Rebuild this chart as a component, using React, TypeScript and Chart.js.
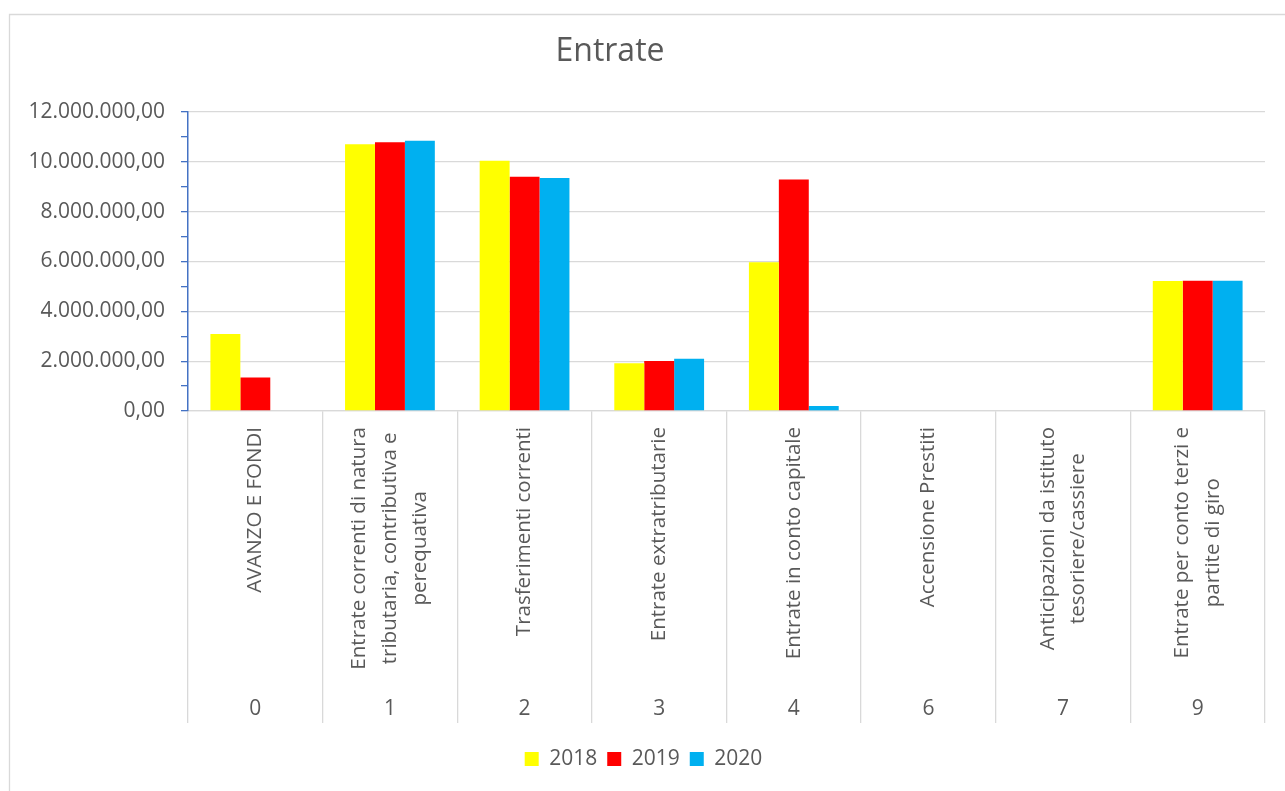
import React, { useEffect, useRef } from 'react';
import { Chart, registerables } from 'chart.js';

Chart.register(...registerables);

const TITLE = 'Entrate';
const CATEGORY_CODES = ['0', '1', '2', '3', '4', '6', '7', '9'];
const CATEGORY_LABELS = [
  ['AVANZO E FONDI'],
  ['Entrate correnti di natura', 'tributaria, contributiva e', 'perequativa'],
  ['Trasferimenti correnti'],
  ['Entrate extratributarie'],
  ['Entrate in conto capitale'],
  ['Accensione Prestiti'],
  ['Anticipazioni da istituto', 'tesoriere/cassiere'],
  ['Entrate per conto terzi e', 'partite di giro'],
];
const SERIES_NAMES = ['2018', '2019', '2020'];
const VALUES_2018 = [3090000, 10710000, 10040000, 1920000, 5970000, 0, 0, 5220000];
const VALUES_2019 = [1340000, 10790000, 9400000, 2010000, 9290000, 0, 0, 5230000];
const VALUES_2020 = [0, 10850000, 9350000, 2100000, 200000, 0, 0, 5230000];
const SERIES_COLORS = ['#ffff00', '#ff0000', '#00b0f0'];
const Y_MIN = 0;
const Y_MAX = 12000000;
const Y_STEP = 1000000;
const Y_LABEL_STEP = 2000000;

const FONT = "'Open Sans', 'DejaVu Sans', sans-serif";
const TEXT_COLOR = '#595959';
const GRID_COLOR = '#d9d9d9';
const AXIS_BLUE = '#4472c4';

function formatIt(v: number): string {
  const n = Math.round(v);
  const s = String(Math.abs(n)).replace(/\B(?=(\d{3})+(?!\d))/g, '.');
  return (n < 0 ? '-' : '') + s + ',00';
}

const decorPlugin = {
  id: 'decor',
  beforeDraw(chart: any) {
    const ctx = chart.ctx;
    ctx.save();
    ctx.strokeStyle = GRID_COLOR;
    ctx.lineWidth = 1.3;
    ctx.beginPath();
    ctx.moveTo(9.5, chart.height);
    ctx.lineTo(9.5, 14.5);
    ctx.lineTo(chart.width, 14.5);
    ctx.stroke();
    ctx.restore();
  },
  afterDraw(chart: any) {
    const ctx = chart.ctx;
    const xs = chart.scales.x;
    ctx.save();
    // title
    ctx.fillStyle = TEXT_COLOR;
    ctx.font = `32px ${FONT}`;
    ctx.textAlign = 'center';
    ctx.textBaseline = 'middle';
    ctx.fillText(TITLE, 610, 52);

    // category labels (rotated) and codes
    ctx.font = `20.5px ${FONT}`;
    const lineGap = 30.5;
    const topY = xs.top + 16;
    CATEGORY_LABELS.forEach((lines, i) => {
      const cx = xs.getPixelForValue(i);
      const maxW = Math.max(...lines.map((l) => ctx.measureText(l).width));
      const cy = topY + maxW / 2;
      lines.forEach((line, j) => {
        const lx = cx + (j - (lines.length - 1) / 2) * lineGap;
        ctx.save();
        ctx.translate(lx, cy);
        ctx.rotate(-Math.PI / 2);
        ctx.textAlign = 'center';
        ctx.textBaseline = 'middle';
        ctx.fillText(line, 0, 0);
        ctx.restore();
      });
    });
    ctx.font = `21px ${FONT}`;
    ctx.textAlign = 'center';
    ctx.textBaseline = 'middle';
    CATEGORY_CODES.forEach((code, i) => {
      ctx.fillText(code, xs.getPixelForValue(i), xs.top + 298);
    });
    ctx.restore();
  },
};

export default function App() {
  const canvasRef = useRef<HTMLCanvasElement | null>(null);

  useEffect(() => {
    if (!canvasRef.current) return;
    const chart = new Chart(canvasRef.current, {
      type: 'bar',
      data: {
        labels: CATEGORY_LABELS.map((l) => l.join(' ')),
        datasets: [
          { label: SERIES_NAMES[0], data: VALUES_2018, backgroundColor: SERIES_COLORS[0] },
          { label: SERIES_NAMES[1], data: VALUES_2019, backgroundColor: SERIES_COLORS[1] },
          { label: SERIES_NAMES[2], data: VALUES_2020, backgroundColor: SERIES_COLORS[2] },
        ],
      },
      options: {
        animation: false,
        responsive: true,
        maintainAspectRatio: false,
        layout: { padding: { top: 112, left: 22, right: 20, bottom: 11.5 } },
        datasets: { bar: { categoryPercentage: 0.667, barPercentage: 1, borderWidth: 0 } },
        plugins: {
          title: { display: false },
          tooltip: { enabled: false },
          legend: {
            position: 'bottom',
            labels: {
              boxWidth: 14,
              boxHeight: 14,
              padding: 10,
              color: TEXT_COLOR,
              font: { family: FONT, size: 21 },
            },
          },
        },
        scales: {
          x: {
            type: 'category',
            afterFit: (s: any) => {
              s.height = 327.5;
            },
            ticks: { display: false },
            grid: {
              offset: true,
              drawOnChartArea: false,
              drawTicks: true,
              tickLength: 312,
              color: GRID_COLOR,
              lineWidth: 1.3,
            },
            border: { color: GRID_COLOR, width: 1.3 },
          },
          y: {
            min: Y_MIN,
            max: Y_MAX,
            afterFit: (s: any) => {
              s.width = 166;
            },
            ticks: {
              stepSize: Y_STEP,
              autoSkip: false,
              padding: 16,
              color: TEXT_COLOR,
              font: { family: FONT, size: 21 },
              callback: (v: any) => (Math.round(Number(v)) % Y_LABEL_STEP === 0 ? formatIt(Number(v)) : ''),
            },
            grid: {
              color: (c: any) =>
                c.tick && Math.round(c.tick.value) % Y_LABEL_STEP === 0 ? GRID_COLOR : 'rgba(0,0,0,0)',
              tickColor: AXIS_BLUE,
              tickLength: 7,
              lineWidth: 1.3,
            },
            border: { color: AXIS_BLUE, width: 1.5 },
          },
        },
      },
      plugins: [decorPlugin],
    });
    return () => chart.destroy();
  }, []);

  return (
    <div style={{ position: 'fixed', left: 0, top: 0, width: 1285, height: 791, background: '#ffffff' }}>
      <canvas ref={canvasRef} />
    </div>
  );
}
